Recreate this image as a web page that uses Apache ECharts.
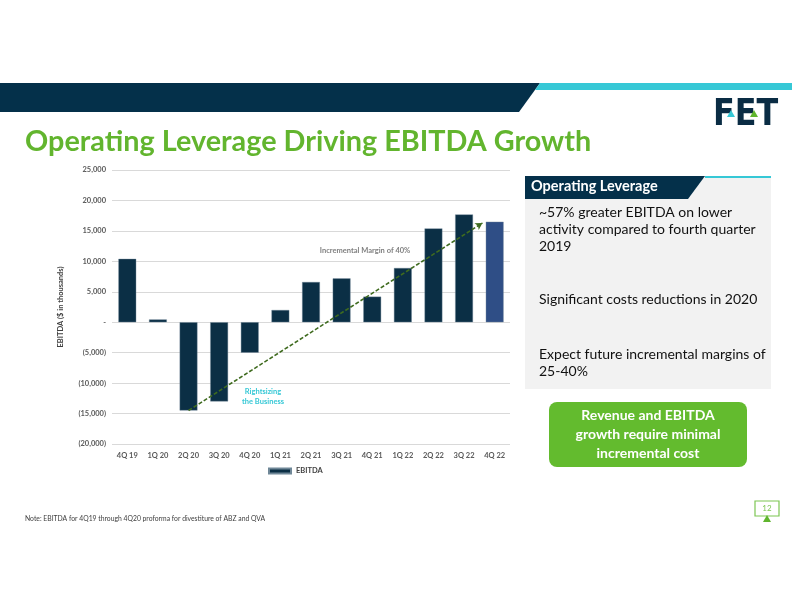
<!DOCTYPE html>
<html>
<head>
<meta charset="utf-8">
<script src="https://cdn.jsdelivr.net/npm/echarts@6/dist/echarts.min.js"></script>
<style>
html,body{margin:0;padding:0;background:#fff;}
#c{width:792px;height:612px;}
</style>
</head>
<body>
<div id="c"></div>
<script>
const categories = ['4Q 19','1Q 20','2Q 20','3Q 20','4Q 20','1Q 21','2Q 21','3Q 21','4Q 21','1Q 22','2Q 22','3Q 22','4Q 22'];
const ebitda = [10400, 450, -14500, -13000, -5000, 2000, 6600, 7200, 4200, 8900, 15400, 17700, 16500];
const yMin = -20000, yMax = 25000, yStep = 5000;
const trendStart = [2, -14500];
const trendEnd = [11.6, 16300];
const seriesName = 'EBITDA';
const bullets = [
  ['~57% greater EBITDA on lower', 'activity compared to fourth quarter', '2019'],
  ['Significant costs reductions in 2020'],
  ['Expect future incremental margins of', '25-40%']
];

const NAVY = '#0b2f45';
const HIGHLIGHT = '#2f4e86';
const GREEN = '#62b52e';
const CYAN = '#36c8d6';
const FONT = 'Lato, "Open Sans", sans-serif';

function fmt(v){
  if (v === 0) return '-';
  const s = Math.abs(v).toLocaleString('en-US');
  return v < 0 ? '(' + s + ')' : s;
}

const barData = ebitda.map((v, i) => i === ebitda.length - 1
  ? {value: v, itemStyle: {color: HIGHLIGHT}} : v);

const graphics = [
  // header bands
  {type:'polygon', shape:{points:[[0,83],[540,83],[519,112],[0,112]]}, style:{fill:'#04304a'}, z:1},
  {type:'polygon', shape:{points:[[540,83],[792,83],[792,90],[535,90]]}, style:{fill:CYAN}, z:1},
  // title
  {type:'text', left:25, top:127, style:{text:'Operating Leverage Driving EBITDA Growth', fill:GREEN, font:'bold 28.8px ' + FONT}},
  // logo
  {type:'text', x:713, y:97, scaleX:0.86, style:{text:'FET', fill:'#0a2c44', font:'bold 37px "DejaVu Sans", ' + FONT}},
  // right panel
  {type:'rect', shape:{x:525, y:176, width:246, height:213}, style:{fill:'#f2f2f2'}, z:1},
  {type:'polygon', shape:{points:[[525,176],[705,176],[688,199],[525,199]]}, style:{fill:'#04304a'}, z:2},
  {type:'rect', shape:{x:705, y:176, width:66, height:2}, style:{fill:CYAN}, z:2},
  {type:'text', left:531, top:179, z:3, style:{text:'Operating Leverage', fill:'#fff', font:'bold 14.5px ' + FONT}},
  {type:'text', left:539, top:204, z:3, style:{text:bullets[0].join('\n'), fill:'#111', font:'14px ' + FONT, lineHeight:17}},
  {type:'text', left:539, top:291, z:3, style:{text:bullets[1].join('\n'), fill:'#111', font:'14px ' + FONT, lineHeight:17}},
  {type:'text', left:539, top:346, z:3, style:{text:bullets[2].join('\n'), fill:'#111', font:'14px ' + FONT, lineHeight:17}},
  // green box
  {type:'rect', shape:{x:549, y:402, width:198, height:65, r:8}, style:{fill:'#63bb2e'}, z:1},
  {type:'text', x:648, y:434.5, z:3, style:{text:'Revenue and EBITDA\ngrowth require minimal\nincremental cost', fill:'#fff', font:'bold 14px ' + FONT, align:'center', verticalAlign:'middle', lineHeight:19}},
  // chart annotations
  {type:'text', x:365, y:251, z:5, style:{text:'Incremental Margin of 40%', fill:'#7f7f7f', font:'bold 7.5px ' + FONT, align:'center', verticalAlign:'middle'}},
  {type:'text', x:263, y:397, z:5, style:{text:'Rightsizing\nthe Business', fill:CYAN, font:'bold 7.5px ' + FONT, align:'center', verticalAlign:'middle', lineHeight:10}},
  // footnote
  {type:'text', left:25, top:515, style:{text:'Note: EBITDA for 4Q19 through 4Q20 proforma for divestiture of ABZ and QVA', fill:'#404040', font:'6.8px ' + FONT}},
  // page number
  {type:'rect', shape:{x:755, y:501, width:24, height:15}, style:{fill:'#fff', stroke:'#7cc652', lineWidth:1.2}},
  {type:'text', x:767, y:508.5, style:{text:'12', fill:'#7cc652', font:'8px ' + FONT, align:'center', verticalAlign:'middle'}},
  {type:'polygon', shape:{points:[[767,515],[771,522],[763,522]]}, style:{fill:'#5fb52d'}}
];

// logo triangles
graphics.push({type:'polygon', z:10, shape:{points:[[731,110],[735,117],[727,117]]}, style:{fill:CYAN}});
graphics.push({type:'polygon', z:10, shape:{points:[[754,110],[758,117],[750,117]]}, style:{fill:'#5fb52d'}});

const chart = echarts.init(document.getElementById('c'), null, {renderer:'canvas'});
chart.setOption({
  animation:false,
  backgroundColor:'#fff',
  textStyle:{fontFamily:FONT},
  grid:{left:112, right:282, top:170, bottom:168, containLabel:false},
  legend:{
    data:[seriesName], left:263, top:462, icon:'rect', itemWidth:22, itemHeight:5, itemGap:4,
    textStyle:{fontSize:7.5, color:'#404040', fontWeight:'bold', fontFamily:FONT}
  },
  xAxis:[
    {type:'category', data:categories, axisTick:{show:false},
     axisLine:{show:false},
     axisLabel:{fontSize:7.5, color:'#595959', fontWeight:'bold', margin:8, interval:0}},
    {type:'value', min:-0.5, max:categories.length - 0.5, show:false}
  ],
  yAxis:{
    type:'value', min:yMin, max:yMax, interval:yStep,
    name:'EBITDA ($ in thousands)', nameLocation:'middle', nameGap:47, nameRotate:90,
    nameTextStyle:{fontSize:7.5, color:'#404040', fontWeight:'bold'},
    axisLine:{show:false}, axisTick:{show:false},
    axisLabel:{formatter:fmt, fontSize:7.5, color:'#595959', fontWeight:'bold', margin:6},
    splitLine:{lineStyle:{color:'#d9d9d9', width:1}}
  },
  series:[
    {name:seriesName, type:'bar', data:barData, barWidth:'58%', xAxisIndex:0,
     itemStyle:{color:NAVY, borderColor:'#6f8797', borderWidth:0.4}},
    {name:'trend', type:'line', xAxisIndex:1, data:[], silent:true,
     markLine:{silent:true, symbol:['none','arrow'], symbolSize:[6,7],
       label:{show:false},
       lineStyle:{color:'#3f6b1f', type:[4,2], width:1.6},
       data:[[{coord:trendStart},{coord:trendEnd}]]}}
  ],
  graphic:graphics
});
</script>
</body>
</html>
